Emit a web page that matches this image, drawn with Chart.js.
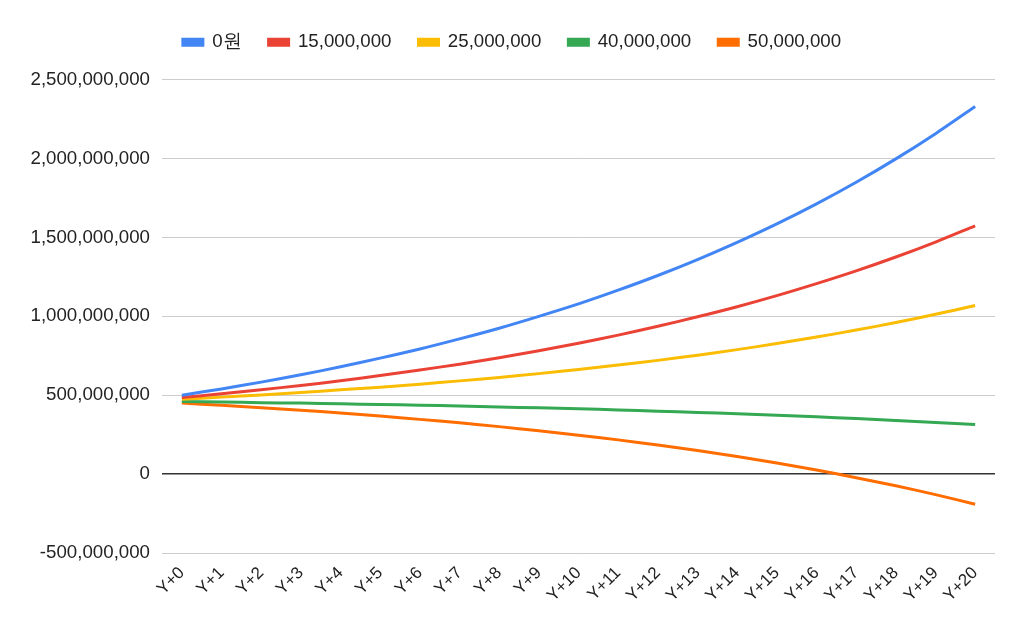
<!DOCTYPE html>
<html>
<head>
<meta charset="utf-8">
<script src="https://cdn.jsdelivr.net/npm/chart.js@4"></script>
<style>
  html, body { margin: 0; padding: 0; background: #fff; }
  #wrap { width: 1024px; height: 621px; }
</style>
</head>
<body>
<div id="wrap"><canvas id="myChart"></canvas></div>
<script>
// years
const years = ['Y+0', 'Y+1', 'Y+2', 'Y+3', 'Y+4', 'Y+5', 'Y+6', 'Y+7', 'Y+8', 'Y+9', 'Y+10',
  'Y+11', 'Y+12', 'Y+13', 'Y+14', 'Y+15', 'Y+16', 'Y+17', 'Y+18', 'Y+19', 'Y+20'];

// values, in millions
const won0 = [500, 540, 583, 630, 680, 735, 793, 857, 925, 1000, 1079, 1166, 1259, 1360, 1469, 1586, 1713, 1850, 1998, 2158, 2330];
const won15m = [485, 509, 535, 562, 592, 625, 660, 697, 738, 782, 830, 881, 937, 997, 1061, 1131, 1207, 1288, 1376, 1471, 1574];
const won25m = [475, 488, 502, 517, 534, 551, 570, 591, 613, 637, 663, 691, 721, 754, 789, 828, 869, 913, 961, 1013, 1069];
const won40m = [460, 457, 453, 450, 446, 441, 437, 432, 426, 420, 414, 407, 399, 391, 383, 373, 363, 352, 340, 327, 314];
const won50m = [450, 436, 421, 405, 387, 368, 347, 325, 301, 275, 247, 217, 184, 149, 111, 70, 26, -23, -74, -130, -191];

const seriesNames = ['0원', '15,000,000', '25,000,000', '40,000,000', '50,000,000'];
const seriesColors = ['#4285F4', '#EA4335', '#FBBC04', '#34A853', '#FF6D01'];

const yTicks = [-500000000, 0, 500000000, 1000000000, 1500000000, 2000000000, 2500000000];

Chart.defaults.font.family = '"Liberation Sans", Arial, sans-serif';
Chart.defaults.font.size = 18.7;
Chart.defaults.color = '#222';

var ctx = document.getElementById('myChart');
const allSeries = [won0, won15m, won25m, won40m, won50m];

// extra room under the legend
const legendGap = {
  id: 'legendGap',
  beforeInit(chart) {
    const fit = chart.legend.fit;
    chart.legend.fit = function () {
      fit.bind(chart.legend)();
      this.height += 18;
    };
  }
};

const config = {
  type: 'line',
  data: {
    labels: years,
    datasets: allSeries.map((s, i) => ({
      label: seriesNames[i],
      data: s.map(v => v * 1000000),
      borderColor: seriesColors[i],
      backgroundColor: seriesColors[i],
      borderWidth: 3,
      pointRadius: 0,
      tension: 0.3
    }))
  },
  options: {
    responsive: true,
    maintainAspectRatio: false,
    animation: false,
    layout: { padding: { left: 29, right: 29, top: 6, bottom: 0 } },
    plugins: {
      legend: {
        position: 'top',
        labels: { boxWidth: 20, boxHeight: 6, padding: 27 }
      },
      tooltip: { enabled: false }
    },
    scales: {
      x: {
        offset: true,
        grid: { display: false, drawTicks: false },
        border: { display: false },
        ticks: { minRotation: 45, maxRotation: 45, autoSkip: false, padding: 10, font: { size: 17 } },
        afterFit: function (scale) { scale.height = 68; }
      },
      y: {
        min: -500000000,
        max: 2500000000,
        afterBuildTicks: function (scale) { scale.ticks = yTicks.map(v => ({ value: v })); },
        grid: {
          drawTicks: false,
          color: c => (c.tick && c.tick.value === 0) ? '#333' : '#ccc',
          lineWidth: c => (c.tick && c.tick.value === 0) ? 1.5 : 1
        },
        border: { display: false },
        ticks: {
          padding: 12,
          callback: v => v.toLocaleString('en-US')
        },
        afterFit: function (scale) { scale.width = 133; }
      }
    }
  },
  plugins: [legendGap]
};
var myChart = new Chart(ctx, config);
</script>
</body>
</html>
